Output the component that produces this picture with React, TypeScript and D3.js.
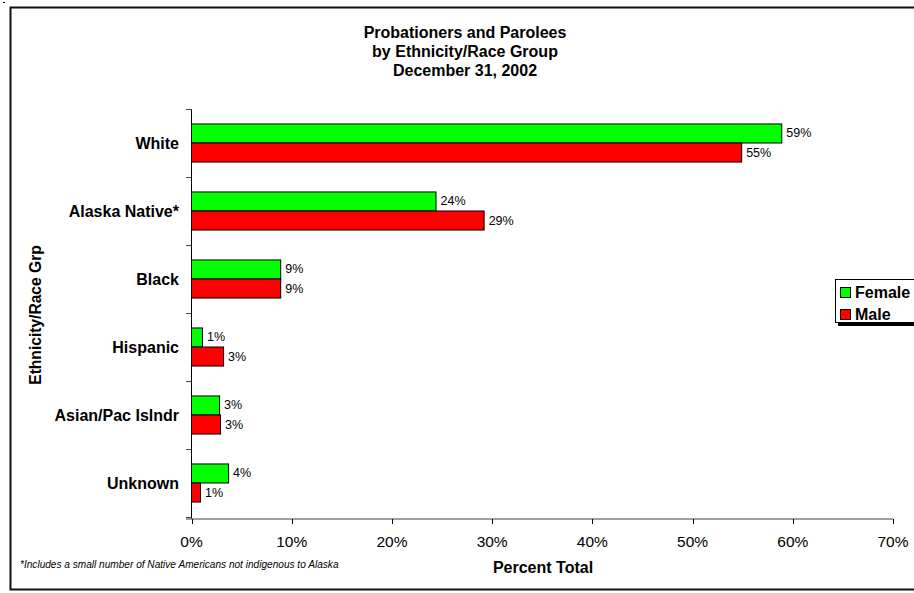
import React from "react";
import * as d3 from "d3";

const categories = ["White", "Alaska Native*", "Black", "Hispanic", "Asian/Pac Islndr", "Unknown"];
const femaleValues = [58.9, 24.4, 8.9, 1.1, 2.8, 3.7];
const maleValues = [54.9, 29.2, 8.9, 3.2, 2.9, 0.9];
const femaleLabels = ["59%", "24%", "9%", "1%", "3%", "4%"];
const maleLabels = ["55%", "29%", "9%", "3%", "3%", "1%"];
const xTicks = [0, 10, 20, 30, 40, 50, 60, 70];
const titleLines = ["Probationers and Parolees", "by Ethnicity/Race Group", "December 31, 2002"];
const seriesNames = ["Female", "Male"];
const seriesColors = ["#00FF00", "#FF0000"];

const FONT = "'Liberation Sans', Arial, sans-serif";

export default function App() {
  const W = 914, H = 593;
  const x = d3.scaleLinear().domain([0, 70]).range([191.5, 893]);
  const y = d3.scaleBand<string>().domain(categories).range([109, 517]).paddingInner(0).paddingOuter(0);
  const bw = y.bandwidth();
  const barH = bw * 0.28;
  const off = (bw - 2 * barH) / 2;
  const boundaries = d3.range(categories.length + 1).map((i) => 109 + i * bw);

  return (
    <div style={{ position: "absolute", left: 0, top: 0 }}>
      <svg width={W} height={H} style={{ display: "block", fontFamily: FONT }}>
        <rect x={0} y={0} width={W} height={H} fill="#fff" />
        <rect x={3} y={2} width={2} height={1} fill="#000" />
        <rect x={10.5} y={7.5} width={930} height={582} fill="none" stroke="#111" strokeWidth={2} />

        {titleLines.map((t, i) => (
          <text key={t} x={465} y={38 + i * 19} textAnchor="middle" fontWeight="bold" fontSize={16} fill="#000">
            {t}
          </text>
        ))}

        {/* bars */}
        {categories.map((c, i) => {
          const y0 = (y(c) as number) + off;
          return (
            <g key={c}>
              <rect x={x(0)} y={y0} width={x(femaleValues[i]) - x(0)} height={barH} fill={seriesColors[0]} stroke="#000" strokeWidth={1} />
              <rect x={x(0)} y={y0 + barH} width={x(maleValues[i]) - x(0)} height={barH} fill={seriesColors[1]} stroke="#000" strokeWidth={1} />
              <text x={x(femaleValues[i]) + 4.5} y={y0 + barH / 2} dominantBaseline="central" fontSize={12.5} fill="#000">
                {femaleLabels[i]}
              </text>
              <text x={x(maleValues[i]) + 4.5} y={y0 + barH * 1.5} dominantBaseline="central" fontSize={12.5} fill="#000">
                {maleLabels[i]}
              </text>
              <text x={179} y={(y(c) as number) + bw / 2} textAnchor="end" dominantBaseline="central" fontWeight="bold" fontSize={16} fill="#000">
                {c}
              </text>
            </g>
          );
        })}

        {/* y axis */}
        <line x1={191.5} x2={191.5} y1={109} y2={519} stroke="#000" strokeWidth={1} />
        {boundaries.map((b) => (
          <line key={b} x1={186} x2={191.5} y1={b + 0.5} y2={b + 0.5} stroke="#444" strokeWidth={1} />
        ))}

        {/* x axis */}
        <line x1={186} x2={893} y1={519} y2={519} stroke="#808080" strokeWidth={1.5} />
        {xTicks.map((t) => (
          <g key={t}>
            <line x1={Math.round(x(t)) + 0.5} x2={Math.round(x(t)) + 0.5} y1={519} y2={524} stroke="#000" strokeWidth={1} />
            <text x={x(t)} y={547} textAnchor="middle" fontSize={15.5} fill="#000">
              {t + "%"}
            </text>
          </g>
        ))}

        <text x={543} y={573} textAnchor="middle" fontWeight="bold" fontSize={16} fill="#000">
          Percent Total
        </text>
        <text x={20} y={568} fontStyle="italic" fontSize={10.1} fill="#000">
          *Includes a small number of Native Americans not indigenous to Alaska
        </text>
        <text transform="translate(40.5,315) rotate(-90)" textAnchor="middle" fontWeight="bold" fontSize={15.6} fill="#000">
          Ethnicity/Race Grp
        </text>

        {/* legend */}
        <rect x={838} y={322} width={100} height={4} fill="#000" />
        <rect x={835.5} y={279.5} width={100} height={43} fill="#fff" stroke="#000" strokeWidth={1} />
        {seriesNames.map((s, i) => (
          <g key={s}>
            <rect x={840.5} y={287.5 + i * 22} width={10} height={10} fill={seriesColors[i]} stroke="#000" strokeWidth={1} />
            <text x={855} y={292.5 + i * 22} dominantBaseline="central" fontWeight="bold" fontSize={16} fill="#000">
              {s}
            </text>
          </g>
        ))}
      </svg>
    </div>
  );
}
